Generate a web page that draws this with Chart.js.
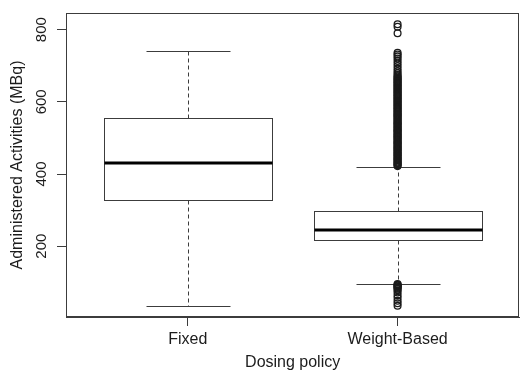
<!DOCTYPE html>
<html>
<head>
<meta charset="utf-8">
<script src="https://cdn.jsdelivr.net/npm/chart.js@4/dist/chart.umd.min.js"></script>
<style>
  html, body { margin: 0; padding: 0; background: #fff; }
  #wrap { width: 524px; height: 372px; }
</style>
</head>
<body>
<div id="wrap"><canvas id="chart" width="524" height="372"></canvas></div>
<script>
// Administered activity (MBq) by dosing policy: five-number summaries per group
const categories   = ['Fixed', 'Weight-Based'];
const whiskerLow   = [35, 96];
const quartile1    = [327, 217];
const medians      = [430, 244];
const quartile3    = [555, 297];
const whiskerHigh  = [740, 420];

// Outlying administrations (Weight-Based group only)
const outliersFixed = [];
const outliersWeightBased = [
  95, 93, 91, 89, 87, 85, 82, 78, 72, 64, 57, 49, 42, 35,
  422, 424, 427, 430, 432, 435, 438, 441, 443, 446, 449, 452, 455, 457,
  460, 463, 466, 469, 471, 474, 477, 480, 483, 486, 488, 491, 494, 497,
  500, 503, 505, 508, 511, 514, 517, 520, 522, 525, 528, 531, 534, 537,
  540, 542, 545, 548, 551, 554, 557, 560, 563, 565, 568, 571, 574, 577,
  580, 583, 586, 589, 592, 595, 598, 601, 604, 607, 610, 613, 616, 619,
  622, 625, 628, 631, 634, 637, 640, 643, 646, 649, 652, 655, 658, 661,
  664, 667, 670, 674, 679, 685, 692, 699, 706, 713, 720, 726, 731, 736,
  790, 808, 815
];

const yTicks = [200, 400, 600, 800];

const lineColor = '#3c3c3c';
const textColor = '#1c1c1c';

const outlierPoints = [];
outliersFixed.forEach(v => outlierPoints.push({ x: 1, y: v }));
outliersWeightBased.forEach(v => outlierPoints.push({ x: 2, y: v }));

const crisp = v => Math.round(v) + 0.5;

// Draws box, median, dashed whiskers and staples for each group on the chart's scales
const boxplotPlugin = {
  id: 'boxplot',
  beforeDatasetsDraw(chart) {
    const { ctx, scales: { x, y } } = chart;
    const boxHalf = 0.4, stapleHalf = 0.2;
    ctx.save();
    categories.forEach((cat, i) => {
      const pos = i + 1;
      const xc = crisp(x.getPixelForValue(pos));
      const xl = crisp(x.getPixelForValue(pos - boxHalf));
      const xr = crisp(x.getPixelForValue(pos + boxHalf));
      const sl = crisp(x.getPixelForValue(pos - stapleHalf));
      const sr = crisp(x.getPixelForValue(pos + stapleHalf));
      const yq1 = crisp(y.getPixelForValue(quartile1[i]));
      const yq3 = crisp(y.getPixelForValue(quartile3[i]));
      const ymed = Math.round(y.getPixelForValue(medians[i]));
      const ylo = crisp(y.getPixelForValue(whiskerLow[i]));
      const yhi = crisp(y.getPixelForValue(whiskerHigh[i]));

      ctx.strokeStyle = lineColor;
      ctx.lineWidth = 1;

      // whiskers (dashed)
      ctx.setLineDash([4, 3]);
      ctx.beginPath();
      ctx.moveTo(xc, yq3); ctx.lineTo(xc, yhi);
      ctx.moveTo(xc, yq1); ctx.lineTo(xc, ylo);
      ctx.stroke();
      ctx.setLineDash([]);

      // staples
      ctx.beginPath();
      ctx.moveTo(sl, yhi); ctx.lineTo(sr, yhi);
      ctx.moveTo(sl, ylo); ctx.lineTo(sr, ylo);
      ctx.stroke();

      // box
      ctx.fillStyle = '#ffffff';
      ctx.fillRect(xl, yq3, xr - xl, yq1 - yq3);
      ctx.strokeRect(xl, yq3, xr - xl, yq1 - yq3);

      // median
      ctx.strokeStyle = '#000000';
      ctx.lineWidth = 3;
      ctx.beginPath();
      ctx.moveTo(xl, ymed); ctx.lineTo(xr, ymed);
      ctx.stroke();
    });
    ctx.restore();
  },
  afterDraw(chart) {
    const { ctx, chartArea: a } = chart;
    ctx.save();
    ctx.strokeStyle = lineColor;
    ctx.lineWidth = 1;
    ctx.strokeRect(crisp(a.left), crisp(a.top), Math.round(a.right - a.left) - 1, Math.round(a.bottom - a.top) - 1);
    ctx.restore();
  }
};

const fontFamily = 'Liberation Sans, Arial, sans-serif';

new Chart(document.getElementById('chart'), {
  type: 'scatter',
  data: {
    datasets: [{
      label: 'Outliers',
      data: outlierPoints,
      pointStyle: 'circle',
      pointRadius: 3.4,
      pointHoverRadius: 3.4,
      pointBorderWidth: 1.3,
      pointBorderColor: '#1a1a1a',
      pointBackgroundColor: 'rgba(255,255,255,0)',
      clip: false
    }]
  },
  options: {
    responsive: false,
    devicePixelRatio: 1,
    animation: false,
    layout: { padding: { top: 13, right: 2, left: 0, bottom: 0 } },
    plugins: {
      legend: { display: false },
      tooltip: { enabled: false }
    },
    scales: {
      x: {
        type: 'linear',
        position: 'bottom',
        min: 0.42,
        max: 2.58,
        afterBuildTicks: scale => { scale.ticks = categories.map((c, i) => ({ value: i + 1 })); },
        afterFit: scale => { scale.height = 55; },
        ticks: {
          autoSkip: false,
          maxRotation: 0,
          minRotation: 0,
          padding: 4,
          color: textColor,
          font: { family: fontFamily, size: 16 },
          callback: v => categories[Math.round(v) - 1]
        },
        grid: { display: true, drawOnChartArea: false, drawTicks: true, tickLength: 9, tickColor: lineColor, color: lineColor },
        border: { display: true, color: lineColor, width: 1 },
        title: {
          display: true,
          text: 'Dosing policy',
          color: textColor,
          font: { family: fontFamily, size: 16 },
          padding: { top: 0, bottom: 0 }
        }
      },
      y: {
        type: 'linear',
        position: 'left',
        min: 3.8,
        max: 846.2,
        afterBuildTicks: scale => { scale.ticks = yTicks.map(v => ({ value: v })); },
        afterFit: scale => { scale.width = 66; },
        ticks: {
          minRotation: 90,
          maxRotation: 90,
          crossAlign: 'center',
          padding: 3,
          color: textColor,
          font: { family: fontFamily, size: 15 }
        },
        grid: { display: true, drawOnChartArea: false, drawTicks: true, tickLength: 9, tickColor: lineColor, color: lineColor },
        border: { display: true, color: lineColor, width: 1 },
        title: {
          display: true,
          text: 'Administered Activities (MBq)',
          color: textColor,
          font: { family: fontFamily, size: 16 },
          padding: { top: 8, bottom: 0 }
        }
      }
    }
  },
  plugins: [boxplotPlugin]
});
</script>
</body>
</html>
